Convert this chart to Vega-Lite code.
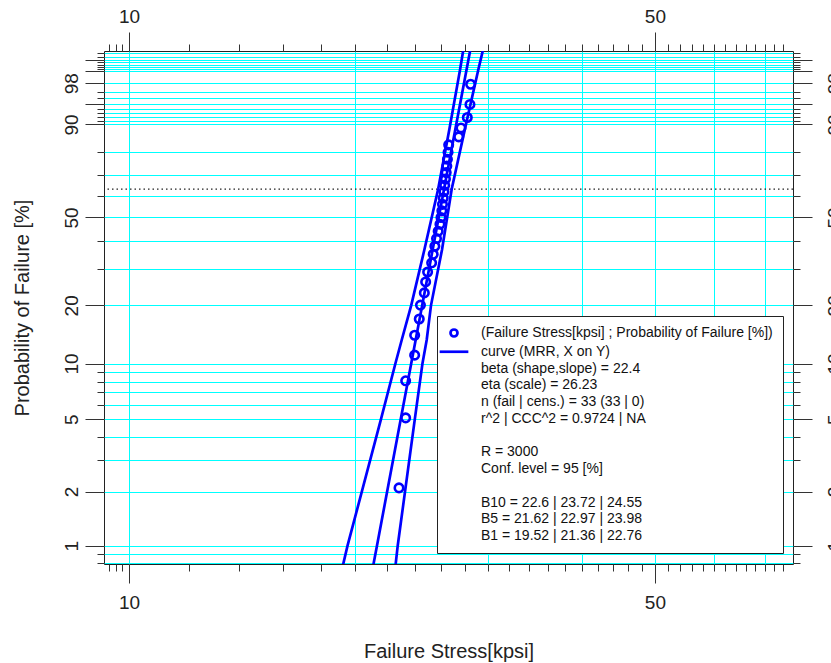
{
  "$schema": "https://vega.github.io/schema/vega-lite/v6.json",
  "autosize": {"type": "none"},
  "width": 689,
  "height": 513,
  "padding": {"left": 104, "top": 51, "right": 38, "bottom": 99},
  "background": "white",
  "config": {
    "view": {"stroke": "#222", "strokeWidth": 1},
    "axis": {
      "labelFont": "Liberation Sans", "titleFont": "Liberation Sans",
      "labelColor": "#222", "titleColor": "#222", "tickColor": "#333", "tickWidth": 1,
      "domain": false, "labelOverlap": false, "labelFlush": false,
      "titleFontWeight": "normal", "labelFontSize": 19, "titleFontSize": 20
    }
  },
  "datasets": {
    "pts": [
      {"i": 1, "F": 2.096, "x": 22.85}, {"i": 2, "F": 5.090, "x": 23.32}, {"i": 3, "F": 8.084, "x": 23.32},
      {"i": 4, "F": 11.078, "x": 23.97}, {"i": 5, "F": 14.072, "x": 23.97}, {"i": 6, "F": 17.066, "x": 24.31},
      {"i": 7, "F": 20.060, "x": 24.40}, {"i": 8, "F": 23.054, "x": 24.69}, {"i": 9, "F": 26.048, "x": 24.79},
      {"i": 10, "F": 29.042, "x": 24.94}, {"i": 11, "F": 32.036, "x": 25.25}, {"i": 12, "F": 35.030, "x": 25.37},
      {"i": 13, "F": 38.024, "x": 25.50}, {"i": 14, "F": 41.018, "x": 25.63}, {"i": 15, "F": 44.012, "x": 25.76},
      {"i": 16, "F": 47.006, "x": 25.90}, {"i": 17, "F": 50.000, "x": 25.98}, {"i": 18, "F": 52.994, "x": 26.05},
      {"i": 19, "F": 55.988, "x": 26.10}, {"i": 20, "F": 58.982, "x": 26.16}, {"i": 21, "F": 61.976, "x": 26.22},
      {"i": 22, "F": 64.970, "x": 26.28}, {"i": 23, "F": 67.964, "x": 26.34}, {"i": 24, "F": 70.958, "x": 26.40},
      {"i": 25, "F": 73.952, "x": 26.45}, {"i": 26, "F": 76.946, "x": 26.50}, {"i": 27, "F": 79.940, "x": 26.55},
      {"i": 28, "F": 82.934, "x": 26.60}, {"i": 29, "F": 85.928, "x": 27.43}, {"i": 30, "F": 88.922, "x": 27.62},
      {"i": 31, "F": 91.916, "x": 28.16}, {"i": 32, "F": 94.910, "x": 28.39}, {"i": 33, "F": 97.904, "x": 28.45}
    ],
    "curves": [
      {"s": "fit", "F": 0.7, "x": 21.02}, {"s": "fit", "F": 1, "x": 21.36}, {"s": "fit", "F": 5, "x": 22.97},
      {"s": "fit", "F": 10, "x": 23.72}, {"s": "fit", "F": 63.21, "x": 26.23}, {"s": "fit", "F": 99.8, "x": 28.46},
      {"s": "lower", "F": 0.78, "x": 19.25}, {"s": "lower", "F": 1, "x": 19.52}, {"s": "lower", "F": 5, "x": 21.62},
      {"s": "lower", "F": 10, "x": 22.6}, {"s": "lower", "F": 13.3, "x": 23.04}, {"s": "lower", "F": 20, "x": 23.72},
      {"s": "lower", "F": 36.6, "x": 24.69}, {"s": "lower", "F": 63.2, "x": 25.76}, {"s": "lower", "F": 88.3, "x": 26.65},
      {"s": "lower", "F": 99.04, "x": 27.54}, {"s": "lower", "F": 99.76, "x": 27.82},
      {"s": "upper", "F": 0.78, "x": 22.61}, {"s": "upper", "F": 1, "x": 22.76}, {"s": "upper", "F": 5, "x": 23.98},
      {"s": "upper", "F": 10, "x": 24.55}, {"s": "upper", "F": 13.3, "x": 24.87}, {"s": "upper", "F": 20, "x": 25.20},
      {"s": "upper", "F": 36.6, "x": 26.06}, {"s": "upper", "F": 63.2, "x": 26.85}, {"s": "upper", "F": 88.3, "x": 27.94},
      {"s": "upper", "F": 99.04, "x": 29.12}, {"s": "upper", "F": 99.76, "x": 29.55}
    ],
    "ref": [{"F": 63.212}],
    "leg": [
      {"k": "(Failure Stress[kpsi] ; Probability of Failure [%])"},
      {"k": "curve (MRR, X on Y)"},
      {"k": "beta (shape,slope) = 22.4"},
      {"k": "eta (scale) = 26.23"},
      {"k": "n (fail | cens.) = 33 (33 | 0)"},
      {"k": "r^2 | CCC^2 = 0.9724 | NA"},
      {"k": " "},
      {"k": "R = 3000"},
      {"k": "Conf. level = 95 [%]"},
      {"k": "  "},
      {"k": "B10 = 22.6 | 23.72 | 24.55"},
      {"k": "B5 = 21.62 | 22.97 | 23.98"},
      {"k": "B1 = 19.52 | 21.36 | 22.76"}
    ]
  },
  "resolve": {"axis": {"x": "independent", "y": "independent"}},
  "layer": [
    {
      "data": {"name": "pts"},
      "transform": [{"calculate": "-log(1 - datum.F/100)", "as": "u"}],
      "mark": {"type": "point", "opacity": 0},
      "encoding": {
        "x": {"field": "x", "type": "quantitative",
          "scale": {"type": "log", "domain": [9.264, 76.3], "nice": false},
          "axis": {"orient": "top", "grid": false, "gridOpacity": 0, "gridColor": "transparent", "gridWidth": 0,
            "values": [9.4, 9.6, 9.8, 10, 12, 14, 16, 18, 20, 22, 24, 26, 28, 30, 32, 34, 36, 38, 40, 42, 44, 46, 48, 50, 52, 54, 56, 58, 60, 62, 64, 66, 68, 70, 72, 74],
            "tickSize": {"condition": {"test": "indexof([10,50], datum.value) >= 0", "value": 19}, "value": 7},
            "labelExpr": "indexof([10,50], datum.value) >= 0 ? format(datum.value, 'd') : ''",
            "labelBaseline": "alphabetic", "labelPadding": 9.5, "title": null}},
        "y": {"field": "u", "type": "quantitative",
          "scale": {"type": "log", "domain": [0.007937, 5.934], "nice": false},
          "axis": {"orient": "right", "grid": false, "gridOpacity": 0, "gridColor": "transparent", "gridWidth": 0,
            "values": [0.0080322, 0.0090407, 0.0100503, 0.0202027, 0.0304592, 0.0408220, 0.0512933, 0.0618754, 0.0725707, 0.0833816, 0.0943107, 0.1053605, 0.2231436, 0.3566749, 0.5108256, 0.6931472, 0.9162907, 1.2039728, 1.6094379, 2.3025851, 2.4079456, 2.5257286, 2.6592600, 2.8134107, 2.9957323, 3.2188758, 3.5065579, 3.9120230, 4.6051702, 4.7105307, 4.8283137, 4.9618451, 5.1159958, 5.2983174, 5.5214609, 5.8091430],
            "tickSize": {"condition": {"test": "indexof([1,2,5,10,20,50,90,95,98,99,99.5], round((1-exp(-datum.value))*1000)/10) >= 0", "value": 19}, "value": 7},
            "labelAngle": 270, "labelAlign": "center", "labelBaseline": "alphabetic", "labelPadding": 28,
            "labelExpr": "indexof([1,2,5,10,20,50,90,98], round((1-exp(-datum.value))*1000)/10) >= 0 ? format(round((1-exp(-datum.value))*100), 'd') : ''",
            "title": null}}
      }
    },
    {
      "data": {"name": "pts"},
      "transform": [{"calculate": "-log(1 - datum.F/100)", "as": "u"}],
      "mark": {"type": "point", "opacity": 0},
      "encoding": {
        "x": {"field": "x", "type": "quantitative",
          "scale": {"type": "log", "domain": [9.264, 76.3], "nice": false},
          "axis": {"orient": "bottom",
            "values": [9.4, 9.6, 9.8, 10, 12, 14, 16, 18, 20, 22, 24, 26, 28, 30, 32, 34, 36, 38, 40, 42, 44, 46, 48, 50, 52, 54, 56, 58, 60, 62, 64, 66, 68, 70, 72, 74],
            "grid": true, "gridColor": "#00ffff", "gridWidth": 1,
            "gridOpacity": {"condition": {"test": "indexof([10,20,30,40,50,60,70], datum.value) >= 0", "value": 1}, "value": 0},
            "tickSize": {"condition": {"test": "indexof([10,50], datum.value) >= 0", "value": 19}, "value": 7},
            "labelExpr": "indexof([10,50], datum.value) >= 0 ? format(datum.value, 'd') : ''",
            "labelBaseline": "alphabetic", "labelPadding": 25,
            "title": "Failure Stress[kpsi]", "titleBaseline": "alphabetic", "titleY": 93}},
        "y": {"field": "u", "type": "quantitative",
          "scale": {"type": "log", "domain": [0.007937, 5.934], "nice": false},
          "axis": {"orient": "left",
            "values": [0.0080322, 0.0090407, 0.0100503, 0.0202027, 0.0304592, 0.0408220, 0.0512933, 0.0618754, 0.0725707, 0.0833816, 0.0943107, 0.1053605, 0.2231436, 0.3566749, 0.5108256, 0.6931472, 0.9162907, 1.2039728, 1.6094379, 2.3025851, 2.4079456, 2.5257286, 2.6592600, 2.8134107, 2.9957323, 3.2188758, 3.5065579, 3.9120230, 4.6051702, 4.7105307, 4.8283137, 4.9618451, 5.1159958, 5.2983174, 5.5214609, 5.8091430],
            "grid": true, "gridColor": "#00ffff", "gridWidth": 1, "gridOpacity": 1,
            "tickSize": {"condition": {"test": "indexof([1,2,5,10,20,50,90,95,98,99,99.5], round((1-exp(-datum.value))*1000)/10) >= 0", "value": 19}, "value": 7},
            "labelAngle": 270, "labelAlign": "center", "labelBaseline": "alphabetic", "labelPadding": 7.5,
            "labelExpr": "indexof([1,2,5,10,20,50,90,98], round((1-exp(-datum.value))*1000)/10) >= 0 ? format(round((1-exp(-datum.value))*100), 'd') : ''",
            "title": "Probability of Failure [%]", "titleAngle": 270, "titleAlign": "center", "titleBaseline": "alphabetic", "titleX": -76, "titleY": 256.5}}
      }
    },
    {
      "data": {"name": "ref"},
      "transform": [{"calculate": "-log(1 - datum.F/100)", "as": "u"}],
      "mark": {"type": "rule", "color": "#222", "strokeWidth": 1.2, "strokeDash": [1.5, 3]},
      "encoding": {
        "y": {"field": "u", "type": "quantitative", "scale": {"type": "log", "domain": [0.007937, 5.934], "nice": false}, "axis": null}
      }
    },
    {
      "data": {"name": "curves"},
      "transform": [{"calculate": "-log(1 - datum.F/100)", "as": "u"}],
      "mark": {"type": "line", "color": "#0000ff", "strokeWidth": 2.7, "clip": true},
      "encoding": {
        "x": {"field": "x", "type": "quantitative", "scale": {"type": "log", "domain": [9.264, 76.3], "nice": false}, "axis": null},
        "y": {"field": "u", "type": "quantitative", "scale": {"type": "log", "domain": [0.007937, 5.934], "nice": false}, "axis": null},
        "detail": {"field": "s", "type": "nominal"},
        "order": {"field": "F", "type": "quantitative"}
      }
    },
    {
      "data": {"name": "pts"},
      "transform": [{"calculate": "-log(1 - datum.F/100)", "as": "u"}],
      "mark": {"type": "point", "color": "#0000ff", "filled": false, "strokeWidth": 2.6, "size": 72, "opacity": 1},
      "encoding": {
        "x": {"field": "x", "type": "quantitative", "scale": {"type": "log", "domain": [9.264, 76.3], "nice": false}, "axis": null},
        "y": {"field": "u", "type": "quantitative", "scale": {"type": "log", "domain": [0.007937, 5.934], "nice": false}, "axis": null}
      }
    },
    {
      "data": {"name": "leg"},
      "mark": {"type": "point", "color": "#0000ff", "filled": false, "opacity": 0, "strokeWidth": 2.7},
      "encoding": {
        "shape": {"field": "k", "type": "nominal",
          "scale": {
            "domain": ["(Failure Stress[kpsi] ; Probability of Failure [%])", "curve (MRR, X on Y)", "beta (shape,slope) = 22.4", "eta (scale) = 26.23", "n (fail | cens.) = 33 (33 | 0)", "r^2 | CCC^2 = 0.9724 | NA", " ", "R = 3000", "Conf. level = 95 [%]", "  ", "B10 = 22.6 | 23.72 | 24.55", "B5 = 21.62 | 22.97 | 23.98", "B1 = 19.52 | 21.36 | 22.76"],
            "range": ["circle", "M-4.1,0L4.1,0", "M0,0", "M0,0", "M0,0", "M0,0", "M0,0", "M0,0", "M0,0", "M0,0", "M0,0", "M0,0", "M0,0"]
          },
          "legend": {
            "orient": "none", "legendX": 333, "legendY": 265, "title": null,
            "strokeColor": "#222", "fillColor": "white", "padding": 10,
            "labelFont": "Liberation Sans", "labelFontSize": 14, "labelColor": "#111", "labelLimit": 600, "labelOffset": 20,
            "rowPadding": 2.75, "symbolSize": 49, "symbolStrokeWidth": 2.7, "symbolStrokeColor": "#0000ff", "symbolFillColor": "transparent",
            "symbolOpacity": 1, "cornerRadius": 0
          }
        }
      }
    }
  ]
}
